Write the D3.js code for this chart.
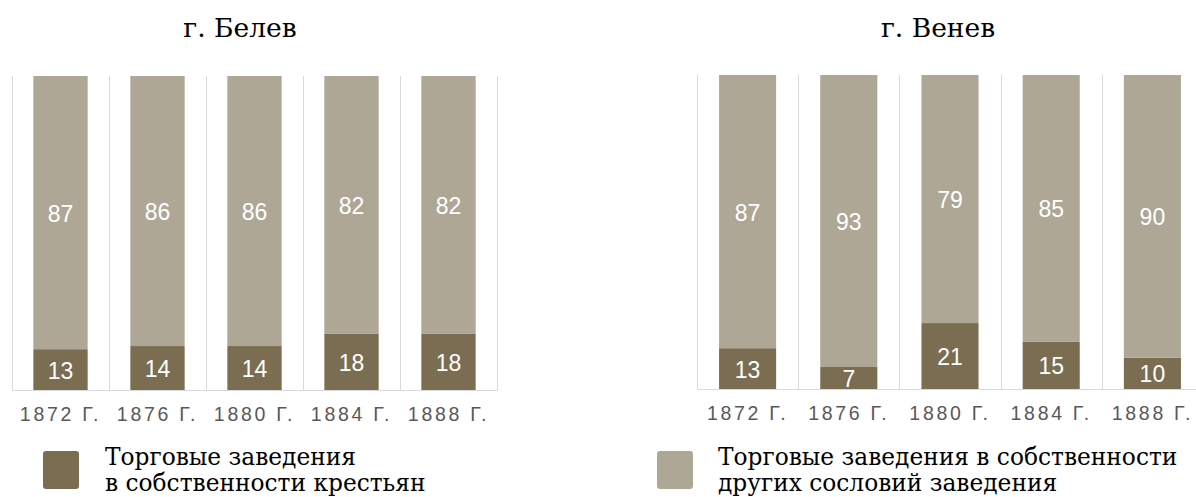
<!DOCTYPE html>
<html>
<head>
<meta charset="utf-8">
<script src="https://cdn.jsdelivr.net/npm/d3@7"></script>
<style>
  html, body { margin: 0; padding: 0; background: #fff; }
  svg { display: block; }
</style>
</head>
<body>
<svg id="chart" width="1196" height="497"></svg>
<script>
const yearLabels = ["1872 Г.", "1876 Г.", "1880 Г.", "1884 Г.", "1888 Г."];
const belevPeasant = [13, 14, 14, 18, 18];
const belevOther = [87, 86, 86, 82, 82];
const venevPeasant = [13, 7, 21, 15, 10];
const venevOther = [87, 93, 79, 85, 90];
const titles = ["г. Белев", "г. Венев"];
const legendLabels = [
  ["Торговые заведения", "в собственности крестьян"],
  ["Торговые заведения в собственности", "других сословий заведения"]
];

const colDark = "#7b6d51";
const colLight = "#aea796";
const gridCol = "#d9d9d9";

const svg = d3.select("#chart");

const panels = [
  { title: titles[0], cx: 240, x0: 12, x1: 497, yTop: 76, yBot: 390, peasant: belevPeasant, other: belevOther, pad: 0.44 },
  { title: titles[1], cx: 938, x0: 697, x1: 1203, yTop: 75, yBot: 389, peasant: venevPeasant, other: venevOther, pad: 0.436 }
];

panels.forEach(p => {
  const g = svg.append("g");
  const x = d3.scaleBand().domain(yearLabels).range([p.x0, p.x1])
    .paddingInner(p.pad).paddingOuter(p.pad / 2);
  const y = d3.scaleLinear().domain([0, 100]).range([p.yBot, p.yTop]);
  const step = x.step();

  // title
  g.append("text").attr("x", p.cx).attr("y", 37)
    .attr("text-anchor", "middle")
    .style("font-family", "'DejaVu Serif', serif").style("font-size", "26.5px")
    .attr("fill", "#000").text(p.title);

  // vertical gridlines at category boundaries
  const bounds = d3.range(yearLabels.length + 1).map(i => p.x0 + i * step);
  g.selectAll("line.grid").data(bounds).join("line")
    .attr("x1", d => Math.round(d) + 0.5).attr("x2", d => Math.round(d) + 0.5)
    .attr("y1", y(100)).attr("y2", y(0))
    .attr("stroke", gridCol).attr("stroke-width", 1);

  const rows = yearLabels.map((c, i) => ({ c, a: p.peasant[i], b: p.other[i] }));

  // peasant (bottom) segments
  g.selectAll("rect.peas").data(rows).join("rect")
    .attr("x", d => x(d.c)).attr("width", x.bandwidth())
    .attr("y", d => y(d.a)).attr("height", d => y(0) - y(d.a))
    .attr("fill", colDark);
  // other (top) segments
  g.selectAll("rect.oth").data(rows).join("rect")
    .attr("x", d => x(d.c)).attr("width", x.bandwidth())
    .attr("y", d => y(d.a + d.b)).attr("height", d => y(d.a) - y(d.a + d.b))
    .attr("fill", colLight);

  const lblStyle = sel => sel
    .attr("text-anchor", "middle").attr("dominant-baseline", "central")
    .style("font-family", "'Liberation Sans', Arial, sans-serif").style("font-size", "23px")
    .attr("fill", "#ffffff");

  g.selectAll("text.lp").data(rows).join("text")
    .attr("x", d => x(d.c) + x.bandwidth() / 2)
    .attr("y", d => (y(0) + y(d.a)) / 2 + 1)
    .call(lblStyle).text(d => d.a);
  g.selectAll("text.lo").data(rows).join("text")
    .attr("x", d => x(d.c) + x.bandwidth() / 2)
    .attr("y", d => (y(d.a) + y(d.a + d.b)) / 2 + 1)
    .call(lblStyle).text(d => d.b);

  // x axis
  const axis = g.append("g").attr("transform", `translate(0,${p.yBot})`)
    .call(d3.axisBottom(x).tickSize(0).tickPadding(17));
  axis.select(".domain").attr("stroke", gridCol).attr("stroke-width", 1.2);
  axis.selectAll(".tick text")
    .style("font-family", "'Liberation Sans', Arial, sans-serif")
    .style("font-size", "19.5px").style("letter-spacing", "2.7px")
    .attr("fill", "#595959").attr("dy", "0.71em");
});

// legend
const legendItems = [
  { x: 43, tx: 105, color: colDark, lines: legendLabels[0] },
  { x: 657, tx: 718, color: colLight, lines: legendLabels[1] }
];
legendItems.forEach(l => {
  svg.append("rect").attr("x", l.x).attr("y", 451).attr("width", 36).attr("height", 38)
    .attr("rx", 3).attr("fill", l.color);
  const t = svg.append("text").attr("x", l.tx).attr("y", 465)
    .style("font-family", "'DejaVu Serif', serif").style("font-size", "23.3px").attr("fill", "#000");
  l.lines.forEach((s, i) => t.append("tspan").attr("x", l.tx).attr("dy", i === 0 ? 0 : 26).text(s));
});
</script>
</body>
</html>
